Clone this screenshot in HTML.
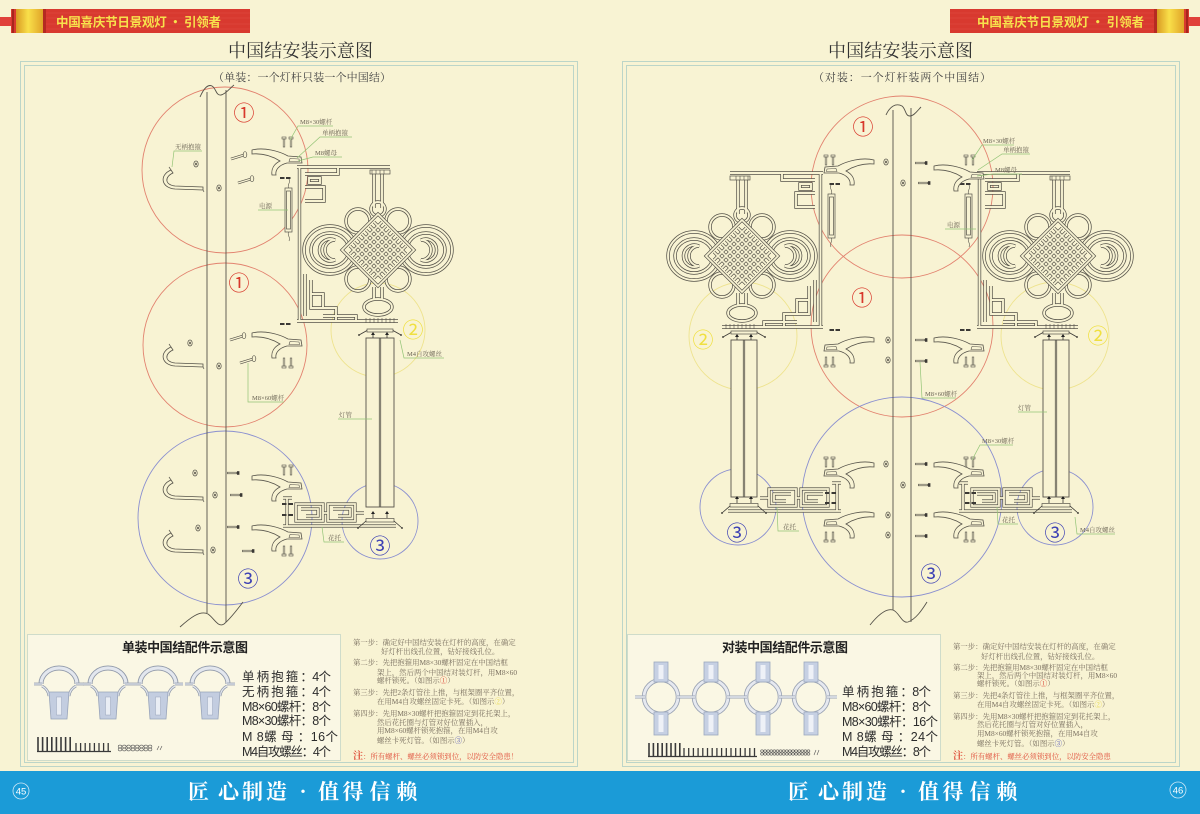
<!DOCTYPE html>
<html><head><meta charset="utf-8"><title>中国结安装示意图</title>
<style>
html,body{margin:0;padding:0;background:#f8f3d3;width:1200px;height:814px;overflow:hidden}
svg{display:block}
.lb{font-family:"Liberation Serif","Noto Serif CJK SC",serif;font-size:6.5px;fill:#6c6656}
.ins{font-family:"Liberation Serif","Noto Serif CJK SC",serif;font-size:7.4px;fill:#7a7060}
.cn{font-family:"Noto Sans CJK SC",sans-serif}
.lst{font-family:"Liberation Sans","Noto Sans CJK SC",sans-serif;font-size:12.5px;fill:#2c2c2c}
</style></head><body>
<svg width="1200" height="814" viewBox="0 0 1200 814" xmlns="http://www.w3.org/2000/svg">
<defs>
<linearGradient id="gold" x1="0" x2="1" y1="0" y2="0">
<stop offset="0" stop-color="#d99a22"/><stop offset="0.45" stop-color="#f9df4a"/><stop offset="1" stop-color="#e0a428"/>
</linearGradient>
<g id="kA" fill="none">
<path d="M-81 -83H12M-78.5 -83V72M-81 71H20"/>
<path d="M-73 -76H-40V-83M-73 -63H-54V-49H-73M-69 -72H-58V-67H-69Z"/>
<path d="M-73 24V66M-67 30V58H-42V71M-67 44H-55V58M-55 66H-22V71"/>
<path d="M-4 -78V-42M4 -78V-42M-4 37V49M4 37V49"/>
<ellipse cx="-48" cy="0" rx="26" ry="24"/><ellipse cx="48" cy="0" rx="26" ry="24"/>
<ellipse cx="-48" cy="0" rx="19" ry="17"/><ellipse cx="48" cy="0" rx="19" ry="17"/>
<path d="M-43 -10A11 11 0 1 0 -43 10A8.5 8.5 0 1 1 -43 -10Z"/>
<path d="M43 -10A11 11 0 1 1 43 10A8.5 8.5 0 1 0 43 -10Z"/>
<circle cx="-20" cy="-29" r="12"/><circle cx="20" cy="-29" r="12"/>
<circle cx="-20" cy="29" r="12"/><circle cx="20" cy="29" r="12"/>
<circle cx="0" cy="-41" r="7"/>
<ellipse cx="0" cy="57" rx="14" ry="8"/>
</g>
<g id="kB" fill="none">
<path d="M0 -36L36 0L0 36L-36 0Z"/>
<path d="M-28 -4L4 28M-24 -8L8 24M-20 -12L12 20M-16 -16L16 16M-12 -20L20 12M-8 -24L24 8M-4 -28L28 4M-28 4L4 -28M-24 8L8 -24M-20 12L12 -20M-16 16L16 -16M-12 20L20 -12M-8 24L24 -8M-4 28L28 -4"/>
</g>
<g id="lamp">
<use href="#kA" stroke="#56534a" stroke-width="3.4"/>
<use href="#kA" stroke="#f8f3d3" stroke-width="1.9"/>
<path d="M0 -37L37 0L0 37L-37 0Z" fill="#f8f3d3"/>
<use href="#kB" stroke="#56534a" stroke-width="3.2"/>
<use href="#kB" stroke="#f8f3d3" stroke-width="1.8"/>
<g fill="#f8f3d3" stroke="#56534a" stroke-width="0.7">
<rect x="-8" y="-80" width="20" height="4"/>
<rect x="-93" y="-62" width="7" height="44"/>
<rect x="-91.5" y="-59" width="4" height="38"/>
</g>
<path d="M-89.5 -62C-91 -66 -87 -67 -89 -71M-89.5 -18C-91 -14 -87 -13 -89 -9M-12 68v5M-8 68v5M-4 68v5M0 68v5M4 68v5M8 68v5M12 68v5M16 68v5M-6 -80v4M-2 -80v4M2 -80v4M6 -80v4" fill="none" stroke="#56534a" stroke-width="0.6"/>
<g fill="#3a3834"><rect x="-98" y="-73" width="4.5" height="2"/><rect x="-92" y="-73" width="4.5" height="2"/><rect x="-98" y="73" width="4.5" height="2"/><rect x="-92" y="73" width="4.5" height="2"/></g>
</g>
<g id="tt">
<rect x="-13" y="-9" width="26" height="3" fill="#f8f3d3" stroke="#56534a" stroke-width="0.7"/>
<path d="M-13 -7.5L-21 -3M13 -7.5L21 -3M-7 -3V0M7 -3V0" stroke="#3a3834" stroke-width="0.8"/>
<circle cx="-21" cy="-3" r="1" fill="#56534a"/><circle cx="21" cy="-3" r="1" fill="#56534a"/>
<path d="M-7 -6l-2 3h4zM7 -6l-2 3h4z" fill="#222"/>
</g>
<g id="bkA" fill="none">
<path d="M-97 0H16M-93 -28V0M-97 -28H-88M-84 -22H-57V-5H-84ZM-79 -17H-62V-10H-74M-52 -22H-25V-5H-52ZM-47 -17H-30V-10H-42M-57 -13H-52M-25 -13H-16"/>
</g>
<g id="bk">
<use href="#bkA" stroke="#56534a" stroke-width="3.2"/>
<use href="#bkA" stroke="#f8f3d3" stroke-width="1.8"/>
<rect x="-14" y="-7.5" width="28" height="3.5" fill="#f8f3d3" stroke="#56534a" stroke-width="0.7"/>
<path d="M-14 -5L-22 2M14 -5L22 2M-7 -12V-8M7 -12V-8" stroke="#3a3834" stroke-width="0.8"/>
<circle cx="-22" cy="2" r="1" fill="#56534a"/><circle cx="22" cy="2" r="1" fill="#56534a"/>
<path d="M-7 -15l-2 3h4zM7 -15l-2 3h4z" fill="#222"/>
</g>
<g id="ca"><path d="M0 0C12 -3 27 1 36 6L49 7L50 13L35 13C27 15 23 20 24 25L20 25C19 19 22 14 28 11C20 6 11 3 0 4Z" fill="#f8f3d3" stroke="#56534a" stroke-width="0.8"/><path d="M38 8.5L47 9L47.5 11.5L37 11.5Z" fill="none" stroke="#56534a" stroke-width="0.6"/></g>
<g id="cb"><path d="M0 0L-28 -1C-42 -2 -44 -15 -32 -20L-30 -17C-39 -13 -38 -5 -28 -4L0 -3Z" fill="#f8f3d3" stroke="#56534a" stroke-width="0.8"/><path d="M-32 -20L-34 -23M0 0L1 2" stroke="#56534a" stroke-width="0.7"/></g>
<g id="bu" fill="#f8f3d3" stroke="#56534a" stroke-width="0.6"><rect x="-2" y="0" width="4" height="2"/><rect x="-0.8" y="2" width="1.6" height="8"/><rect x="5" y="0" width="4" height="2"/><rect x="6.2" y="2" width="1.6" height="8"/></g>
<g id="bd" fill="#f8f3d3" stroke="#56534a" stroke-width="0.6"><rect x="-2" y="8" width="4" height="2"/><rect x="-0.8" y="0" width="1.6" height="8"/><rect x="5" y="8" width="4" height="2"/><rect x="6.2" y="0" width="1.6" height="8"/></g>
<g id="bh"><path d="M0 0L13 -4" stroke="#56534a" stroke-width="2.6"/><path d="M0 0L13 -4" stroke="#f8f3d3" stroke-width="1.2"/><ellipse cx="14" cy="-4.3" rx="1.8" ry="3" fill="#f8f3d3" stroke="#56534a" stroke-width="0.7"/></g>
<g id="bh2"><path d="M0 0H10" stroke="#56534a" stroke-width="2.2"/><path d="M0.5 0H9.5" stroke="#f8f3d3" stroke-width="0.9"/><rect x="10" y="-1.8" width="2.4" height="3.6" fill="#3a3834"/></g>
<g id="nt"><ellipse cx="0" cy="0" rx="2.2" ry="3" fill="none" stroke="#56534a" stroke-width="0.7"/><ellipse cx="0" cy="0" rx="0.9" ry="1.4" fill="#56534a"/></g>
<g id="ds" fill="#3a3834"><rect x="0" y="0" width="4.5" height="2"/><rect x="6.5" y="0" width="4.5" height="2"/></g>
<g id="cl">
<path d="M-18 684A18 16 0 0 1 18 684" fill="none" stroke="#8f98a8" stroke-width="5"/>
<path d="M-18 684A18 16 0 0 1 18 684" fill="none" stroke="#e3e7ee" stroke-width="3.2"/>
<path d="M-25 684H-17M17 684H25M-17 686Q-11 689 -10 696M17 686Q11 689 10 696" fill="none" stroke="#8f98a8" stroke-width="2.8"/>
<path d="M-25 684H-17M17 684H25M-17 686Q-11 689 -10 696M17 686Q11 689 10 696" fill="none" stroke="#e3e7ee" stroke-width="1.3"/>
<path d="M-10 692L-8 719H8L10 692Z" fill="#c3cde0" stroke="#98a4ba" stroke-width="0.8"/>
<rect x="-2.5" y="697" width="5" height="18" fill="#e9edf4" stroke="#98a4ba" stroke-width="0.5"/>
</g>
<g id="cr">
<circle cx="0" cy="697" r="17" fill="none" stroke="#9aa3b3" stroke-width="4.5"/>
<circle cx="0" cy="697" r="17" fill="none" stroke="#e6e9f0" stroke-width="2.8"/>
<path d="M-26 697H-16M16 697H26" stroke="#9aa3b3" stroke-width="3"/>
<path d="M-26 697H-16M16 697H26" stroke="#e6e9f0" stroke-width="1.4"/>
<rect x="-7" y="662" width="14" height="20" fill="#c6d0e3" stroke="#9ca8bf" stroke-width="0.8"/>
<rect x="-2.5" y="665" width="5" height="14" fill="#eef1f7"/>
<rect x="-7" y="712" width="14" height="23" fill="#c6d0e3" stroke="#9ca8bf" stroke-width="0.8"/>
<rect x="-2.5" y="715" width="5" height="17" fill="#eef1f7"/>
</g>
</defs>

<rect width="1200" height="814" fill="#f8f3d3"/>

<!-- banners -->
<rect x="0" y="17" width="14" height="9" fill="#e0413a"/>
<rect x="11" y="9" width="239" height="24" fill="#d8392f"/>
<path d="M46 13H250M46 18H250M46 24H250M46 29H250" stroke="#e04a3e" stroke-width="1" opacity="0.6"/>
<rect x="12" y="9" width="2" height="24" fill="#a8251d"/>
<rect x="16" y="9" width="27" height="24" fill="url(#gold)"/>
<rect x="43" y="9" width="3" height="24" fill="#b52a22"/>
<text x="56" y="26.5" textLength="165" font-size="12.5" font-weight="bold" fill="#f7e24c" class="cn">中国喜庆节日景观灯 · 引领者</text>

<rect x="1186" y="17" width="14" height="9" fill="#e0413a"/>
<rect x="950" y="9" width="239" height="24" fill="#d8392f"/>
<path d="M950 13H1154M950 18H1154M950 24H1154M950 29H1154" stroke="#e04a3e" stroke-width="1" opacity="0.6"/>
<rect x="1186" y="9" width="2" height="24" fill="#a8251d"/>
<rect x="1157" y="9" width="27" height="24" fill="url(#gold)"/>
<rect x="1154" y="9" width="3" height="24" fill="#b52a22"/>
<text x="977" y="26.5" textLength="167" font-size="12.5" font-weight="bold" fill="#f7e24c" class="cn">中国喜庆节日景观灯 · 引领者</text>

<!-- titles -->
<text x="228" y="57" textLength="145" font-size="18" fill="#333" font-family="Liberation Serif, Noto Serif CJK SC, serif">中国结安装示意图</text>
<text x="828" y="57" textLength="145" font-size="18" fill="#333" font-family="Liberation Serif, Noto Serif CJK SC, serif">中国结安装示意图</text>

<!-- frames -->
<g fill="none" stroke="#bcd5c8" stroke-width="1">
<rect x="20.5" y="61.5" width="557" height="705"/>
<rect x="24.5" y="65.5" width="549" height="697"/>
<rect x="622.5" y="61.5" width="557" height="705"/>
<rect x="626.5" y="65.5" width="549" height="697"/>
</g>

<text x="213" y="81" textLength="178" font-size="11" fill="#444" font-family="Liberation Serif, Noto Serif CJK SC, serif">（单装：一个灯杆只装一个中国结）</text>
<text x="813" y="81" textLength="178" font-size="11" fill="#444" font-family="Liberation Serif, Noto Serif CJK SC, serif">（对装：一个灯杆装两个中国结）</text>

<!-- ===== LEFT PAGE DIAGRAM ===== -->
<g fill="none" stroke-width="0.9">
<circle cx="225" cy="170" r="83" stroke="#e2826f"/>
<circle cx="225" cy="345" r="82" stroke="#e2826f"/>
<circle cx="225" cy="518" r="87" stroke="#8a8fd0"/>
<circle cx="380" cy="521" r="38" stroke="#8a8fd0"/>
<circle cx="378" cy="330" r="47" stroke="#eee38e"/>
</g>
<g stroke="#56534a" stroke-width="0.9" fill="none">
<path d="M207 92V613M226 90V622"/>
<path d="M200 97C204 88 208 84 212 86C216 88 216 96 221 95C226 94 230 88 234 85"/>
<path d="M180 627C190 618 200 610 208 614C214 618 218 628 224 624C230 619 237 610 243 602"/>
</g>
<use href="#lamp" transform="translate(378,250)"/>
<rect x="366" y="338" width="28" height="169" fill="#f8f3d3" stroke="#56534a" stroke-width="0.9"/>
<path d="M379.3 338V507M380.7 338V507" stroke="#56534a" stroke-width="0.8"/>
<use href="#tt" transform="translate(380,338)"/>
<use href="#bk" transform="translate(380,526)"/>

<use href="#cb" transform="translate(203,190)"/>
<use href="#nt" transform="translate(196,164)"/>
<use href="#nt" transform="translate(219,188)"/>
<use href="#bh" transform="translate(231,159)"/>
<use href="#bh" transform="translate(238,183)"/>
<use href="#ca" transform="translate(252,150)"/>
<use href="#bu" transform="translate(284,137)"/>

<use href="#cb" transform="translate(203,367)"/>
<use href="#nt" transform="translate(190,343)"/>
<use href="#nt" transform="translate(219,366)"/>
<use href="#bh" transform="translate(230,340)"/>
<use href="#bh" transform="translate(240,363)"/>
<use href="#ca" transform="translate(252,333)"/>
<use href="#bd" transform="translate(284,358)"/>

<use href="#cb" transform="translate(203,500)"/>
<use href="#cb" transform="translate(203,553)"/>
<use href="#nt" transform="translate(195,473)"/>
<use href="#nt" transform="translate(215,495)"/>
<use href="#nt" transform="translate(198,528)"/>
<use href="#nt" transform="translate(213,550)"/>
<use href="#bh2" transform="translate(227,473)"/>
<use href="#bh2" transform="translate(230,495)"/>
<use href="#bh2" transform="translate(227,527)"/>
<use href="#bh2" transform="translate(242,551)"/>
<use href="#ca" transform="translate(252,476)"/>
<use href="#ca" transform="translate(252,526)"/>
<use href="#bu" transform="translate(284,465)"/>
<use href="#bd" transform="translate(284,546)"/>
<use href="#ds" transform="translate(282,503)"/>
<use href="#ds" transform="translate(282,514)"/>

<g fill="none" stroke="#93c476" stroke-width="0.7">
<path d="M290 140L298 126H333"/>
<path d="M297 158L320 137H352"/>
<path d="M298 161L313 157H342"/>
<path d="M172 167L174 151H202"/>
<path d="M258 210H288"/>
<path d="M400 340L404 358H444"/>
<path d="M248 363V402H284"/>
<path d="M338 419H372"/>
<path d="M322 527L324 542H344"/>
</g>
<text class="lb" x="300" y="124">M8×30螺杆</text>
<text class="lb" x="322" y="135">单柄抱箍</text>
<text class="lb" x="315" y="155">M8螺母</text>
<text class="lb" x="175" y="149">无柄抱箍</text>
<text class="lb" x="259" y="208">电源</text>
<text class="lb" x="407" y="356">M4自攻螺丝</text>
<text class="lb" x="252" y="400">M8×60螺杆</text>
<text class="lb" x="339" y="417">灯管</text>
<text class="lb" x="328" y="540">花托</text>

<g class="cn" font-size="21" text-anchor="middle">
<text x="244" y="120.5" fill="#d8392c">①</text>
<text x="239" y="290.5" fill="#d8392c">①</text>
<text x="248" y="586.5" fill="#3c40b4">③</text>
<text x="380" y="553.5" fill="#3c40b4">③</text>
<text x="413" y="337.5" fill="#f0e040">②</text>
</g>

<!-- ===== RIGHT PAGE DIAGRAM ===== -->
<g fill="none" stroke-width="0.9">
<circle cx="902" cy="187" r="91" stroke="#e2826f"/>
<circle cx="902" cy="326" r="91" stroke="#e2826f"/>
<circle cx="902" cy="497" r="100" stroke="#8a8fd0"/>
<circle cx="738" cy="507" r="38" stroke="#8a8fd0"/>
<circle cx="1055" cy="507" r="38" stroke="#8a8fd0"/>
<circle cx="743" cy="336" r="54" stroke="#eee38e"/>
<circle cx="1055" cy="336" r="54" stroke="#eee38e"/>
</g>
<g stroke="#56534a" stroke-width="0.9" fill="none">
<path d="M893 110V610M911 108V622"/>
<path d="M886 115C890 106 896 103 902 106C906 109 905 116 910 116C914 116 918 110 921 107"/>
<path d="M870 625C878 615 886 608 893 610C899 612 902 624 908 622C916 619 922 610 927 602"/>
</g>
<use href="#lamp" transform="translate(742,256) scale(-1,1)"/>
<use href="#lamp" transform="translate(1058,256)"/>
<rect x="731" y="340" width="26" height="157" fill="#f8f3d3" stroke="#56534a" stroke-width="0.9"/>
<path d="M743.3 340V497M744.7 340V497" stroke="#56534a" stroke-width="0.8"/>
<rect x="1043" y="340" width="26" height="157" fill="#f8f3d3" stroke="#56534a" stroke-width="0.9"/>
<path d="M1055.3 340V497M1056.7 340V497" stroke="#56534a" stroke-width="0.8"/>
<use href="#tt" transform="translate(744,340)"/>
<use href="#tt" transform="translate(1056,340)"/>
<use href="#bk" transform="translate(744,511) scale(-1,1)"/>
<use href="#bk" transform="translate(1056,511)"/>

<use href="#ca" transform="translate(874,160) scale(-1,1)"/>
<use href="#bu" transform="translate(826,155)"/>
<use href="#nt" transform="translate(886,162)"/>
<use href="#nt" transform="translate(903,183)"/>
<use href="#bh2" transform="translate(915,163)"/>
<use href="#bh2" transform="translate(918,183)"/>
<use href="#ca" transform="translate(934,166)"/>
<use href="#bu" transform="translate(966,155)"/>

<use href="#ca" transform="translate(874,338) scale(-1,1)"/>
<use href="#bd" transform="translate(826,357)"/>
<use href="#nt" transform="translate(888,340)"/>
<use href="#nt" transform="translate(888,360)"/>
<use href="#bh2" transform="translate(915,340)"/>
<use href="#bh2" transform="translate(915,361)"/>
<use href="#ca" transform="translate(934,338)"/>
<use href="#bd" transform="translate(966,357)"/>

<use href="#ca" transform="translate(874,463) scale(-1,1)"/>
<use href="#bu" transform="translate(826,457)"/>
<use href="#nt" transform="translate(886,464)"/>
<use href="#nt" transform="translate(903,485)"/>
<use href="#bh2" transform="translate(915,464)"/>
<use href="#bh2" transform="translate(918,485)"/>
<use href="#ca" transform="translate(934,463)"/>
<use href="#bu" transform="translate(966,457)"/>
<use href="#ds" transform="translate(825,492)"/>
<use href="#ds" transform="translate(825,502)"/>
<use href="#ds" transform="translate(965,492)"/>
<use href="#ds" transform="translate(965,502)"/>
<use href="#ca" transform="translate(874,513) scale(-1,1)"/>
<use href="#bd" transform="translate(826,532)"/>
<use href="#nt" transform="translate(888,515)"/>
<use href="#nt" transform="translate(888,535)"/>
<use href="#bh2" transform="translate(915,515)"/>
<use href="#bh2" transform="translate(915,536)"/>
<use href="#ca" transform="translate(934,513)"/>
<use href="#bd" transform="translate(966,532)"/>

<g fill="none" stroke="#93c476" stroke-width="0.7">
<path d="M972 160L982 145H1014"/>
<path d="M978 170L1002 154H1030"/>
<path d="M977 176L993 174H1022"/>
<path d="M945 229H976"/>
<path d="M920 362L922 398H956"/>
<path d="M1018 412H1047"/>
<path d="M972 460L980 445H1013"/>
<path d="M777 507L778 531H799"/>
<path d="M997 507L998 524H1018"/>
<path d="M1075 517L1077 534H1115"/>
</g>
<text class="lb" x="983" y="143">M8×30螺杆</text>
<text class="lb" x="1003" y="152">单柄抱箍</text>
<text class="lb" x="995" y="172">M8螺母</text>
<text class="lb" x="947" y="227">电源</text>
<text class="lb" x="925" y="396">M8×60螺杆</text>
<text class="lb" x="1018" y="410">灯管</text>
<text class="lb" x="982" y="443">M8×30螺杆</text>
<text class="lb" x="783" y="529">花托</text>
<text class="lb" x="1002" y="522">花托</text>
<text class="lb" x="1080" y="532">M4自攻螺丝</text>

<g class="cn" font-size="21" text-anchor="middle">
<text x="863" y="134.5" fill="#d8392c">①</text>
<text x="862" y="305.5" fill="#d8392c">①</text>
<text x="931" y="581.5" fill="#3c40b4">③</text>
<text x="737" y="540.5" fill="#3c40b4">③</text>
<text x="1055" y="540.5" fill="#3c40b4">③</text>
<text x="703" y="347.5" fill="#f0e040">②</text>
<text x="1098" y="343.5" fill="#f0e040">②</text>
</g>

<!-- ===== BOTTOM BOXES ===== -->
<rect x="27.5" y="634.5" width="313" height="126" fill="#faf7e4" stroke="#cfdcca" stroke-width="1"/>
<rect x="627.5" y="634.5" width="313" height="126" fill="#faf7e4" stroke="#cfdcca" stroke-width="1"/>

<text x="122" y="652" textLength="126" font-size="13" font-weight="bold" fill="#222" class="cn">单装中国结配件示意图</text>
<text x="722" y="652" textLength="126" font-size="13" font-weight="bold" fill="#222" class="cn">对装中国结配件示意图</text>

<use href="#cl" transform="translate(59,0)"/>
<use href="#cl" transform="translate(108,0)"/>
<use href="#cl" transform="translate(158,0)"/>
<use href="#cl" transform="translate(210,0)"/>

<use href="#cr" transform="translate(661,0)"/>
<use href="#cr" transform="translate(711,0)"/>
<use href="#cr" transform="translate(763,0)"/>
<use href="#cr" transform="translate(811,0)"/>

<path d="M38 737V752M42.6 737V752M47.2 737V752M51.8 737V752M56.4 737V752M61 737V752M65.6 737V752M70.2 737V752" stroke="#3a3a3a" stroke-width="1.6"/>
<path d="M76 743V752M80.6 743V752M85.2 743V752M89.8 743V752M94.4 743V752M99 743V752M103.6 743V752M108.2 743V752M37 751.5H111" stroke="#3a3a3a" stroke-width="1.3"/>
<g fill="none" stroke="#555" stroke-width="0.6">
<ellipse cx="120" cy="746.5" rx="1.8" ry="1.4"/><ellipse cx="124.3" cy="746.5" rx="1.8" ry="1.4"/><ellipse cx="128.6" cy="746.5" rx="1.8" ry="1.4"/><ellipse cx="132.9" cy="746.5" rx="1.8" ry="1.4"/><ellipse cx="137.2" cy="746.5" rx="1.8" ry="1.4"/><ellipse cx="141.5" cy="746.5" rx="1.8" ry="1.4"/><ellipse cx="145.8" cy="746.5" rx="1.8" ry="1.4"/><ellipse cx="150.1" cy="746.5" rx="1.8" ry="1.4"/>
<ellipse cx="120" cy="749.5" rx="1.8" ry="1.4"/><ellipse cx="124.3" cy="749.5" rx="1.8" ry="1.4"/><ellipse cx="128.6" cy="749.5" rx="1.8" ry="1.4"/><ellipse cx="132.9" cy="749.5" rx="1.8" ry="1.4"/><ellipse cx="137.2" cy="749.5" rx="1.8" ry="1.4"/><ellipse cx="141.5" cy="749.5" rx="1.8" ry="1.4"/><ellipse cx="145.8" cy="749.5" rx="1.8" ry="1.4"/><ellipse cx="150.1" cy="749.5" rx="1.8" ry="1.4"/>
<path d="M157 750L159 746M160 750L162 746"/>
</g>

<path d="M649 743V757M653.4 743V757M657.8 743V757M662.2 743V757M666.6 743V757M671 743V757M675.4 743V757M679.8 743V757" stroke="#3a3a3a" stroke-width="1.6"/>
<path d="M684 748V757M688.7 748V757M693.4 748V757M698.1 748V757M702.8 748V757M707.5 748V757M712.2 748V757M716.9 748V757M721.6 748V757M726.3 748V757M731 748V757M735.7 748V757M740.4 748V757M745.1 748V757M749.8 748V757M754.5 748V757M648 756.5H757" stroke="#3a3a3a" stroke-width="1.3"/>
<g fill="none" stroke="#555" stroke-width="0.6">
<ellipse cx="762" cy="751" rx="1.4" ry="1.2"/><ellipse cx="765.1" cy="751" rx="1.4" ry="1.2"/><ellipse cx="768.2" cy="751" rx="1.4" ry="1.2"/><ellipse cx="771.3" cy="751" rx="1.4" ry="1.2"/><ellipse cx="774.4" cy="751" rx="1.4" ry="1.2"/><ellipse cx="777.5" cy="751" rx="1.4" ry="1.2"/><ellipse cx="780.6" cy="751" rx="1.4" ry="1.2"/><ellipse cx="783.7" cy="751" rx="1.4" ry="1.2"/><ellipse cx="786.8" cy="751" rx="1.4" ry="1.2"/><ellipse cx="789.9" cy="751" rx="1.4" ry="1.2"/><ellipse cx="793" cy="751" rx="1.4" ry="1.2"/><ellipse cx="796.1" cy="751" rx="1.4" ry="1.2"/><ellipse cx="799.2" cy="751" rx="1.4" ry="1.2"/><ellipse cx="802.3" cy="751" rx="1.4" ry="1.2"/><ellipse cx="805.4" cy="751" rx="1.4" ry="1.2"/><ellipse cx="808.5" cy="751" rx="1.4" ry="1.2"/>
<ellipse cx="762" cy="754" rx="1.4" ry="1.2"/><ellipse cx="765.1" cy="754" rx="1.4" ry="1.2"/><ellipse cx="768.2" cy="754" rx="1.4" ry="1.2"/><ellipse cx="771.3" cy="754" rx="1.4" ry="1.2"/><ellipse cx="774.4" cy="754" rx="1.4" ry="1.2"/><ellipse cx="777.5" cy="754" rx="1.4" ry="1.2"/><ellipse cx="780.6" cy="754" rx="1.4" ry="1.2"/><ellipse cx="783.7" cy="754" rx="1.4" ry="1.2"/><ellipse cx="786.8" cy="754" rx="1.4" ry="1.2"/><ellipse cx="789.9" cy="754" rx="1.4" ry="1.2"/><ellipse cx="793" cy="754" rx="1.4" ry="1.2"/><ellipse cx="796.1" cy="754" rx="1.4" ry="1.2"/><ellipse cx="799.2" cy="754" rx="1.4" ry="1.2"/><ellipse cx="802.3" cy="754" rx="1.4" ry="1.2"/><ellipse cx="805.4" cy="754" rx="1.4" ry="1.2"/><ellipse cx="808.5" cy="754" rx="1.4" ry="1.2"/>
<path d="M814 755L816 750M817 755L819 750"/>
</g>

<text class="lst" x="242" y="681" textLength="89">单 柄 抱 箍 ：4个</text>
<text class="lst" x="242" y="696" textLength="89">无 柄 抱 箍 ：4个</text>
<text class="lst" x="242" y="711" textLength="89">M8×60螺杆：8个</text>
<text class="lst" x="242" y="725" textLength="89">M8×30螺杆：8个</text>
<text class="lst" x="242" y="741" textLength="96">M  8螺 母 ：16个</text>
<text class="lst" x="242" y="756" textLength="89">M4自攻螺丝：4个</text>

<text class="lst" x="842" y="696" textLength="89">单 柄 抱 箍 ：8个</text>
<text class="lst" x="842" y="711" textLength="89">M8×60螺杆：8个</text>
<text class="lst" x="842" y="726" textLength="96">M8×30螺杆：16个</text>
<text class="lst" x="842" y="741" textLength="96">M  8螺 母 ：24个</text>
<text class="lst" x="842" y="756" textLength="89">M4自攻螺丝：8个</text>

<!-- instructions left -->
<text class="ins" x="353" y="645">第一步：确定好中国结安装在灯杆的高度，在确定</text>
<text class="ins" x="381" y="654">好灯杆出线孔位置，钻好接线孔位。</text>
<text class="ins" x="353" y="665">第二步：先把抱箍用M8×30螺杆固定在中国结框</text>
<text class="ins" x="377" y="675">架上，然后两个中国结对装灯杆，用M8×60</text>
<text class="ins" x="377" y="683">螺杆锁死。（如图示<tspan fill="#d8392c">①</tspan>）</text>
<text class="ins" x="353" y="695">第三步：先把2条灯管往上推，与框架圈平齐位置，</text>
<text class="ins" x="377" y="704">在用M4自攻螺丝固定卡死。（如图示<tspan fill="#e8d840">②</tspan>）</text>
<text class="ins" x="353" y="716">第四步：先用M8×30螺杆把抱箍固定到花托架上，</text>
<text class="ins" x="377" y="725">然后花托圈与灯管对好位置插入，</text>
<text class="ins" x="377" y="733">用M8×60螺杆锁死抱箍，在用M4自攻</text>
<text class="ins" x="377" y="743">螺丝卡死灯管。（如图示<tspan fill="#3c40b4">③</tspan>）</text>
<text x="353" y="759" font-size="7.4" fill="#e0503c" font-family="Liberation Serif, Noto Serif CJK SC, serif"><tspan font-size="10" font-weight="bold">注</tspan>：所有螺杆、螺丝必须锁到位，以防安全隐患！</text>

<!-- instructions right -->
<text class="ins" x="953" y="649">第一步：确定好中国结安装在灯杆的高度，在确定</text>
<text class="ins" x="981" y="659">好灯杆出线孔位置，钻好接线孔位。</text>
<text class="ins" x="953" y="670">第二步：先把抱箍用M8×30螺杆固定在中国结框</text>
<text class="ins" x="977" y="678">架上，然后两个中国结对装灯杆，用M8×60</text>
<text class="ins" x="977" y="686">螺杆锁死。（如图示<tspan fill="#d8392c">①</tspan>）</text>
<text class="ins" x="953" y="698">第三步：先把4条灯管往上推，与框架圈平齐位置，</text>
<text class="ins" x="977" y="707">在用M4自攻螺丝固定卡死。（如图示<tspan fill="#e8d840">②</tspan>）</text>
<text class="ins" x="953" y="719">第四步：先用M8×30螺杆把抱箍固定到花托架上，</text>
<text class="ins" x="977" y="727">然后花托圈与灯管对好位置插入，</text>
<text class="ins" x="977" y="736">用M8×60螺杆锁死抱箍，在用M4自攻</text>
<text class="ins" x="977" y="746">螺丝卡死灯管。（如图示<tspan fill="#3c40b4">③</tspan>）</text>
<text x="953" y="759" font-size="7.4" fill="#e0503c" font-family="Liberation Serif, Noto Serif CJK SC, serif"><tspan font-size="10" font-weight="bold">注</tspan>：所有螺杆、螺丝必须锁到位，以防安全隐患</text>

<!-- blue footer band -->
<rect x="0" y="771" width="1200" height="43" fill="#1b9bd7"/>
<g fill="#ffffff" font-size="21" font-weight="bold" text-anchor="middle" font-family="Noto Serif CJK SC, serif">
<text x="198.5" y="799">匠</text><text x="228.5" y="799">心</text><text x="252.5" y="799">制</text><text x="276.5" y="799">造</text><text x="303" y="799">·</text><text x="328.5" y="799">值</text><text x="353" y="799">得</text><text x="380" y="799">信</text><text x="407" y="799">赖</text>
<text x="798.5" y="799">匠</text><text x="828.5" y="799">心</text><text x="852.5" y="799">制</text><text x="876.5" y="799">造</text><text x="903" y="799">·</text><text x="928.5" y="799">值</text><text x="953" y="799">得</text><text x="980" y="799">信</text><text x="1007" y="799">赖</text>
</g>
<circle cx="21" cy="791" r="8" fill="none" stroke="#cfe8f6" stroke-width="0.8"/>
<text x="21" y="794.5" font-size="9.5" fill="#ffffff" text-anchor="middle" font-family="Liberation Sans, sans-serif">45</text>
<circle cx="1178" cy="790" r="8" fill="none" stroke="#cfe8f6" stroke-width="0.8"/>
<text x="1178" y="793.5" font-size="9.5" fill="#ffffff" text-anchor="middle" font-family="Liberation Sans, sans-serif">46</text>
</svg>
</body></html>
